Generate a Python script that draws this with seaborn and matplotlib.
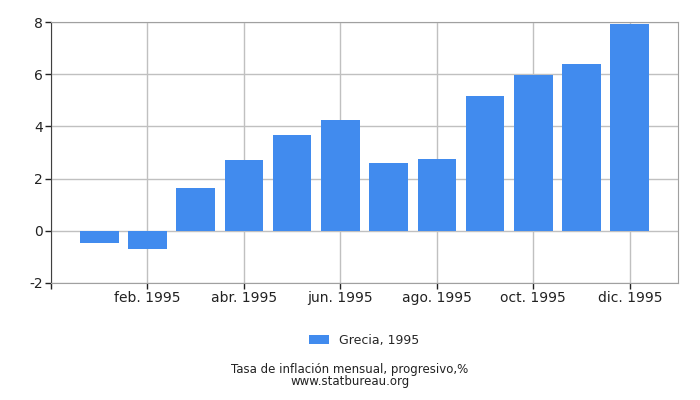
import matplotlib
matplotlib.use("Agg")
import matplotlib.pyplot as plt
import seaborn as sns
import pandas as pd

months = ["ene. 1995", "feb. 1995", "mar. 1995", "abr. 1995", "may. 1995", "jun. 1995",
          "jul. 1995", "ago. 1995", "sep. 1995", "oct. 1995", "nov. 1995", "dic. 1995"]
values = [-0.45, -0.68, 1.65, 2.72, 3.68, 4.25, 2.61, 2.76, 5.17, 5.98, 6.40, 7.93]
series_name = "Grecia, 1995"
y_ticks = [-2, 0, 2, 4, 6, 8]

sns.set_style("white")
plt.rcParams['font.family'] = ['DejaVu Sans']

df = pd.DataFrame({"month": months, "value": values, "series": series_name})

fig = plt.figure(figsize=(7, 4), dpi=100)
ax = fig.add_axes([51/700, 117/400, 627/700, 261/400])

sns.barplot(data=df, x="month", y="value", hue="series", palette=["#418bee"],
            width=0.8, saturation=1, ax=ax, zorder=3, legend=True, linewidth=0)

ax.set_xlim(-1, 12)
ax.set_ylim(-2, 8)
ax.set_yticks(y_ticks)
ax.set_yticklabels([str(t) for t in y_ticks])
tick_pos = [-1] + list(range(1, 12, 2))
ax.set_xticks(tick_pos)
ax.set_xticklabels([""] + [months[i] for i in range(1, 12, 2)])
ax.grid(True, color="#c0c0c0", linewidth=1, zorder=0)
ax.set_axisbelow(True)
ax.set_xlabel("")
ax.set_ylabel("")
for s in ["top", "right", "bottom"]:
    ax.spines[s].set_color("#a0a0a0")
ax.spines["left"].set_color("#404040")
ax.tick_params(axis="both", which="both", direction="out", length=4, width=1,
               color="#222222", labelsize=10, labelcolor="#222222", pad=2,
               bottom=True, left=True)

handles, labels = ax.get_legend_handles_labels()
ax.legend(handles, labels, loc="center", bbox_to_anchor=(0.5, -0.22),
          frameon=False, fontsize=9, handlelength=1.6, handleheight=0.7)

fig.text(0.5, 1 - 370/400, "Tasa de inflación mensual, progresivo,%", ha="center",
         va="center", fontsize=8.5, color="#222222")
fig.text(0.5, 1 - 382/400, "www.statbureau.org", ha="center", va="center",
         fontsize=8.5, color="#222222")

fig.savefig("out.png", dpi=100)
